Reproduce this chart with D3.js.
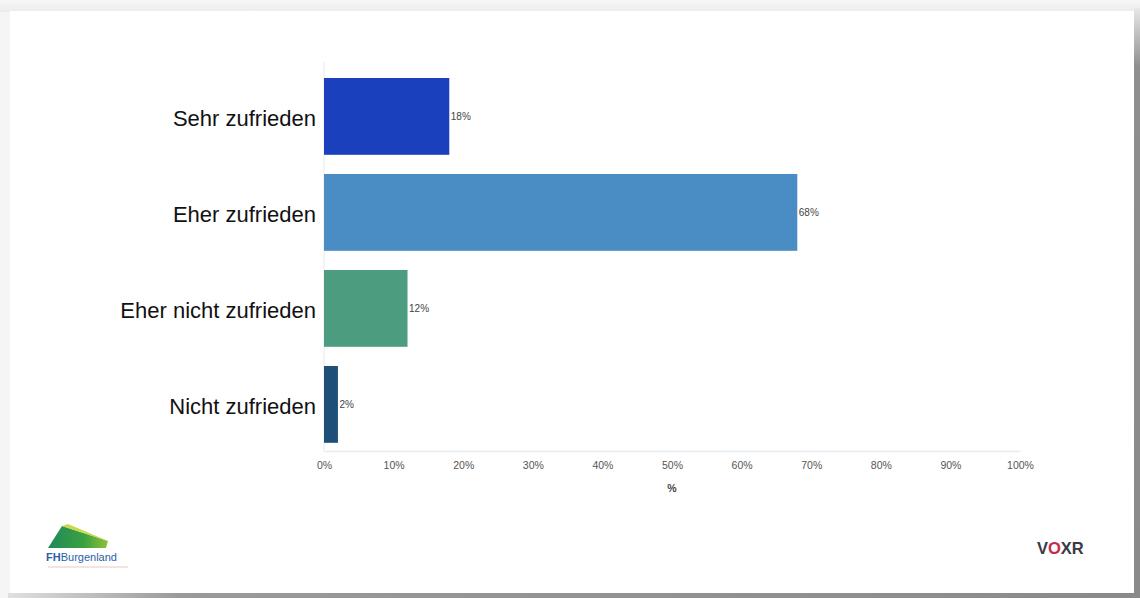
<!DOCTYPE html>
<html>
<head>
<meta charset="utf-8">
<script src="https://cdn.jsdelivr.net/npm/d3@7"></script>
<style>
  html, body { margin: 0; padding: 0; background: #f3f3f3; }
  svg { display: block; }
</style>
</head>
<body>
<svg id="chart" width="1140" height="598"></svg>
<script>
const categories = ["Sehr zufrieden", "Eher zufrieden", "Eher nicht zufrieden", "Nicht zufrieden"];
const values = [18, 68, 12, 2];
const barColors = ["#1a40be", "#4a8cc4", "#4c9d7f", "#1d4f79"];
const tickValues = [0, 10, 20, 30, 40, 50, 60, 70, 80, 90, 100];
const axisTitle = "%";

const svg = d3.select("#chart");

// page background gradient + card with shadow
const defs = svg.append("defs");
const gTop = defs.append("linearGradient").attr("id", "bgTop").attr("x1", 0).attr("y1", 0).attr("x2", 0).attr("y2", 1);
gTop.append("stop").attr("offset", 0).attr("stop-color", "#f7f7f7");
gTop.append("stop").attr("offset", 1).attr("stop-color", "#ececec");
const gBot = defs.append("linearGradient").attr("id", "bgBot").attr("x1", 0).attr("y1", 0).attr("x2", 1).attr("y2", 0);
gBot.append("stop").attr("offset", 0).attr("stop-color", "#e0e0e0");
gBot.append("stop").attr("offset", 0.15).attr("stop-color", "#9a9a9a");
gBot.append("stop").attr("offset", 1).attr("stop-color", "#8a8a8a");
const gRight = defs.append("linearGradient").attr("id", "bgRight").attr("x1", 0).attr("y1", 0).attr("x2", 0).attr("y2", 1);
gRight.append("stop").attr("offset", 0).attr("stop-color", "#e8e8e8");
gRight.append("stop").attr("offset", 0.1).attr("stop-color", "#8e8e8e");
gRight.append("stop").attr("offset", 1).attr("stop-color", "#8a8a8a");

svg.append("rect").attr("x", 0).attr("y", 0).attr("width", 1140).attr("height", 598).attr("fill", "#f5f5f5");
svg.append("rect").attr("x", 0).attr("y", 0).attr("width", 1140).attr("height", 12).attr("fill", "url(#bgTop)");
svg.append("rect").attr("x", 1134).attr("y", 8).attr("width", 6).attr("height", 590).attr("fill", "url(#bgRight)");
svg.append("rect").attr("x", 8).attr("y", 593).attr("width", 1132).attr("height", 5).attr("fill", "url(#bgBot)");
svg.append("rect").attr("x", 10).attr("y", 11).attr("width", 1124).attr("height", 582).attr("fill", "#ffffff");

const x = d3.scaleLinear().domain([0, 100]).range([324, 1020]);
const y = d3.scaleBand().domain(categories).range([68.4, 452.4]).paddingInner(0.2).paddingOuter(0.1);

// axis
const xAxis = svg.append("g").attr("transform", "translate(0,451)")
  .call(d3.axisBottom(x).tickValues(tickValues).tickFormat(d => d + "%").tickSize(0).tickPadding(11));
xAxis.select(".domain").attr("stroke", "#e6ebf2").attr("stroke-width", 1.5);
xAxis.selectAll("text").attr("font-family", "Liberation Sans, Arial, sans-serif").attr("font-size", 10.5).attr("fill", "#555");

svg.append("line").attr("x1", x(0)).attr("x2", x(0)).attr("y1", 62).attr("y2", 451)
  .attr("stroke", "#e8e8e8").attr("stroke-width", 1);

svg.append("text").attr("x", (x(0) + x(100)) / 2).attr("y", 492).attr("text-anchor", "middle")
  .attr("font-family", "Liberation Sans, Arial, sans-serif").attr("font-size", 10.5).attr("font-weight", "bold").attr("fill", "#444")
  .text(axisTitle);

// y labels
svg.append("g").selectAll("text").data(categories).join("text")
  .attr("x", 316).attr("y", d => y(d) + y.bandwidth() / 2 + 2).attr("dy", "0.35em")
  .attr("text-anchor", "end")
  .attr("font-family", "Liberation Sans, Arial, sans-serif").attr("font-size", 22).attr("fill", "#111")
  .text(d => d);

// bars
const data = categories.map((c, i) => ({ c, v: values[i], col: barColors[i] }));
svg.append("g").selectAll("rect").data(data).join("rect")
  .attr("x", x(0)).attr("y", d => y(d.c)).attr("width", d => x(d.v) - x(0)).attr("height", y.bandwidth())
  .attr("fill", d => d.col);

svg.append("g").selectAll("text").data(data).join("text")
  .attr("x", d => x(d.v) + 1.5).attr("y", d => y(d.c) + y.bandwidth() / 2).attr("dy", "0.35em")
  .attr("font-family", "Liberation Sans, Arial, sans-serif").attr("font-size", 10).attr("fill", "#444")
  .text(d => d.v + "%");

// FH Burgenland logo
const logo = svg.append("g");
const gLogo = defs.append("linearGradient").attr("id", "logoGrad").attr("x1", 0).attr("y1", 0).attr("x2", 1).attr("y2", 0);
gLogo.append("stop").attr("offset", 0).attr("stop-color", "#1f8a5a");
gLogo.append("stop").attr("offset", 0.6).attr("stop-color", "#3aa040");
gLogo.append("stop").attr("offset", 1).attr("stop-color", "#8fc23a");
logo.append("path").attr("d", "M48,548 L62,526 L108,541 L106,548 Z").attr("fill", "url(#logoGrad)");
logo.append("path").attr("d", "M62,526 L68,524 L108,541 Z").attr("fill", "#c8d84a");
logo.append("text").attr("x", 46).attr("y", 561)
  .attr("font-family", "Liberation Sans, Arial, sans-serif").attr("font-size", 11).attr("fill", "#2a5ea8")
  .html('<tspan font-weight="bold">FH</tspan>Burgenland');
logo.append("line").attr("x1", 48).attr("x2", 128).attr("y1", 567).attr("y2", 567).attr("stroke", "#e8c8c8").attr("stroke-width", 1);

// VOXR logo
const vox = svg.append("text").attr("x", 1037).attr("y", 554)
  .attr("font-family", "Liberation Sans, Arial, sans-serif").attr("font-size", 16.5).attr("font-weight", "bold").attr("fill", "#3a3a45");
vox.append("tspan").text("V");
vox.append("tspan").attr("fill", "#c8284e").text("O");
vox.append("tspan").text("XR");
</script>
</body>
</html>
